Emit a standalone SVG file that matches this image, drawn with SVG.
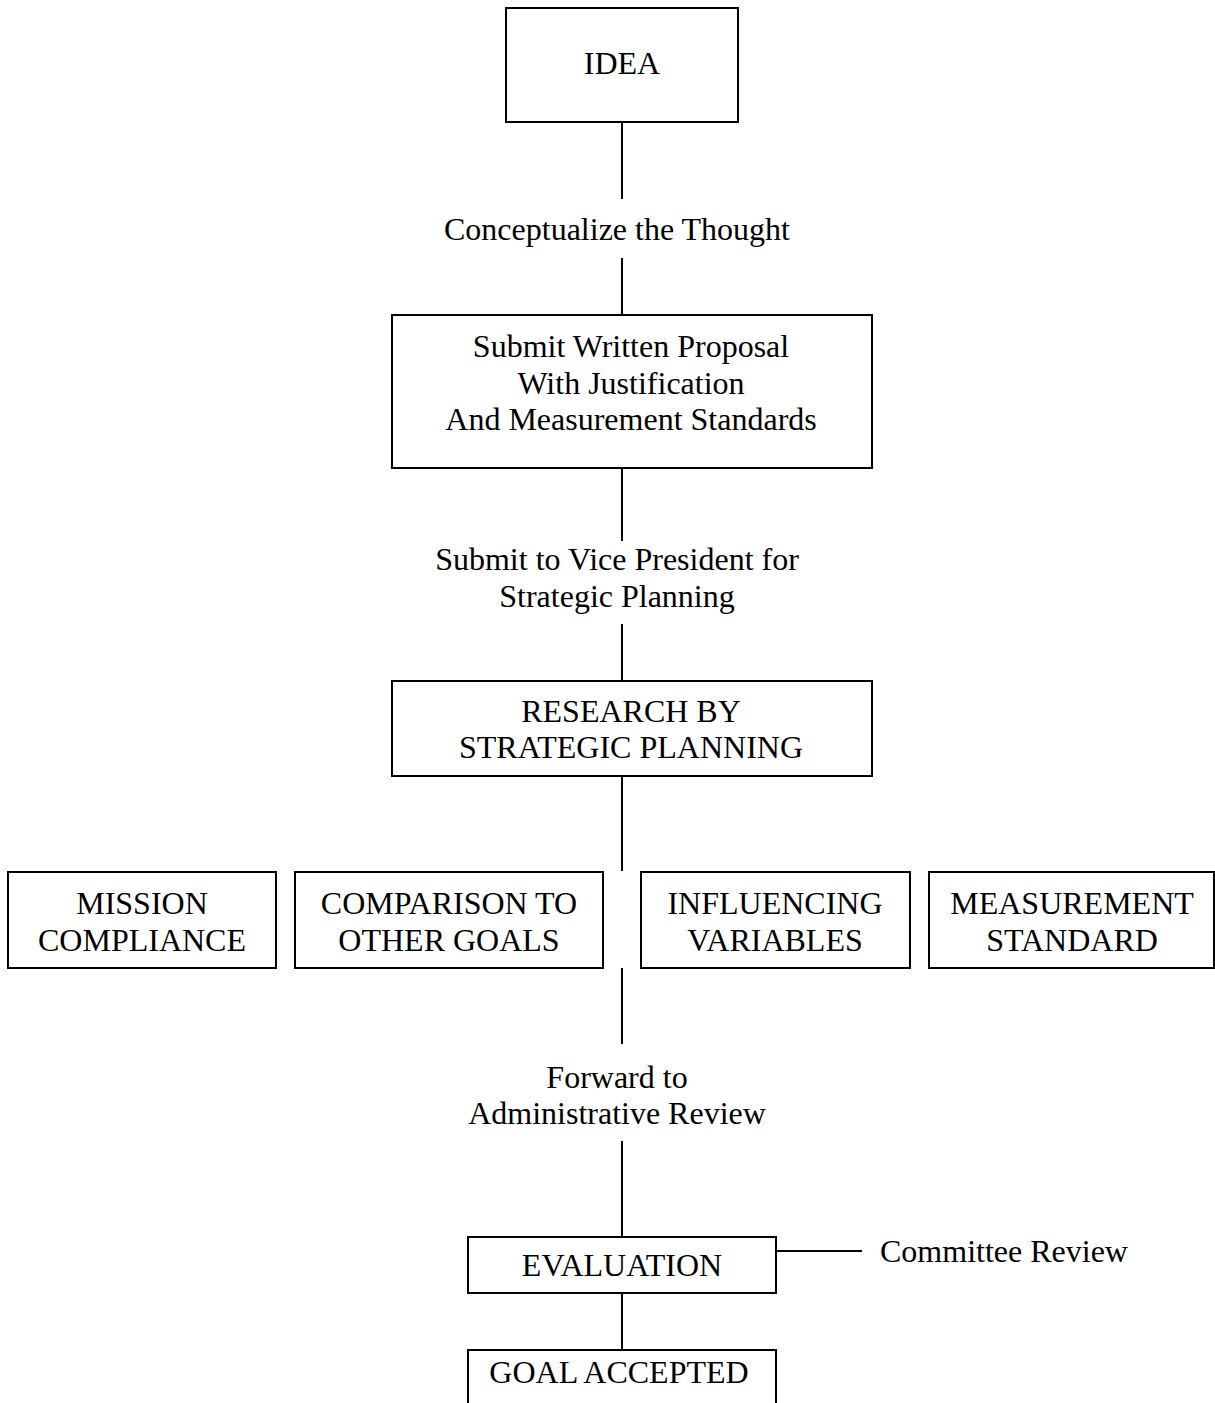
<svg xmlns="http://www.w3.org/2000/svg" width="1215" height="1403" viewBox="0 0 1215 1403">
<style>
.box{fill:#fff;stroke:#000;stroke-width:2}
.ln{stroke:#000;stroke-width:2;fill:none}
text{font-family:"Liberation Serif","Times New Roman",serif;font-size:32px;fill:#000;text-anchor:middle}
</style>
<rect width="1215" height="1403" fill="#fff"/>
<g id="connectors">
<line class="ln" x1="622" y1="122" x2="622" y2="199"/>
<line class="ln" x1="622" y1="258" x2="622" y2="315"/>
<line class="ln" x1="622" y1="468" x2="622" y2="541"/>
<line class="ln" x1="622" y1="624" x2="622" y2="681"/>
<line class="ln" x1="622" y1="776" x2="622" y2="871"/>
<line class="ln" x1="622" y1="968" x2="622" y2="1044"/>
<line class="ln" x1="622" y1="1141" x2="622" y2="1237"/>
<line class="ln" x1="776" y1="1251" x2="862" y2="1251"/>
<line class="ln" x1="622" y1="1293" x2="622" y2="1350"/>
</g>
<g id="idea"><rect class="box" x="506" y="8" width="232" height="114"/><text x="622" y="74">IDEA</text></g>
<g id="lbl-conceptualize"><text x="617" y="240">Conceptualize the Thought</text></g>
<g id="proposal"><rect class="box" x="392" y="315" width="480" height="153"/>
<text x="631" y="357">Submit Written Proposal</text>
<text x="631" y="394">With Justification</text>
<text x="631" y="430">And Measurement Standards</text></g>
<g id="lbl-vp"><text x="617" y="570">Submit to Vice President for</text><text x="617" y="607">Strategic Planning</text></g>
<g id="research"><rect class="box" x="392" y="681" width="480" height="95"/>
<text x="631" y="722">RESEARCH BY</text><text x="631" y="758">STRATEGIC PLANNING</text></g>
<g id="mission"><rect class="box" x="8" y="872" width="268" height="96"/>
<text x="142" y="914">MISSION</text><text x="142" y="951">COMPLIANCE</text></g>
<g id="comparison"><rect class="box" x="295" y="872" width="308" height="96"/>
<text x="449" y="914">COMPARISON TO</text><text x="449" y="951">OTHER GOALS</text></g>
<g id="influencing"><rect class="box" x="641" y="872" width="269" height="96"/>
<text x="775" y="914">INFLUENCING</text><text x="775" y="951">VARIABLES</text></g>
<g id="measurement"><rect class="box" x="929" y="872" width="285" height="96"/>
<text x="1072" y="914">MEASUREMENT</text><text x="1072" y="951">STANDARD</text></g>
<g id="lbl-forward"><text x="617" y="1088">Forward to</text><text x="617" y="1124">Administrative Review</text></g>
<g id="evaluation"><rect class="box" x="468" y="1237" width="308" height="56"/><text x="622" y="1276">EVALUATION</text></g>
<g id="lbl-committee"><text x="880" y="1262" style="text-anchor:start">Committee Review</text></g>
<g id="goal"><rect class="box" x="468" y="1350" width="308" height="70"/><text x="619" y="1383">GOAL ACCEPTED</text></g>
</svg>
